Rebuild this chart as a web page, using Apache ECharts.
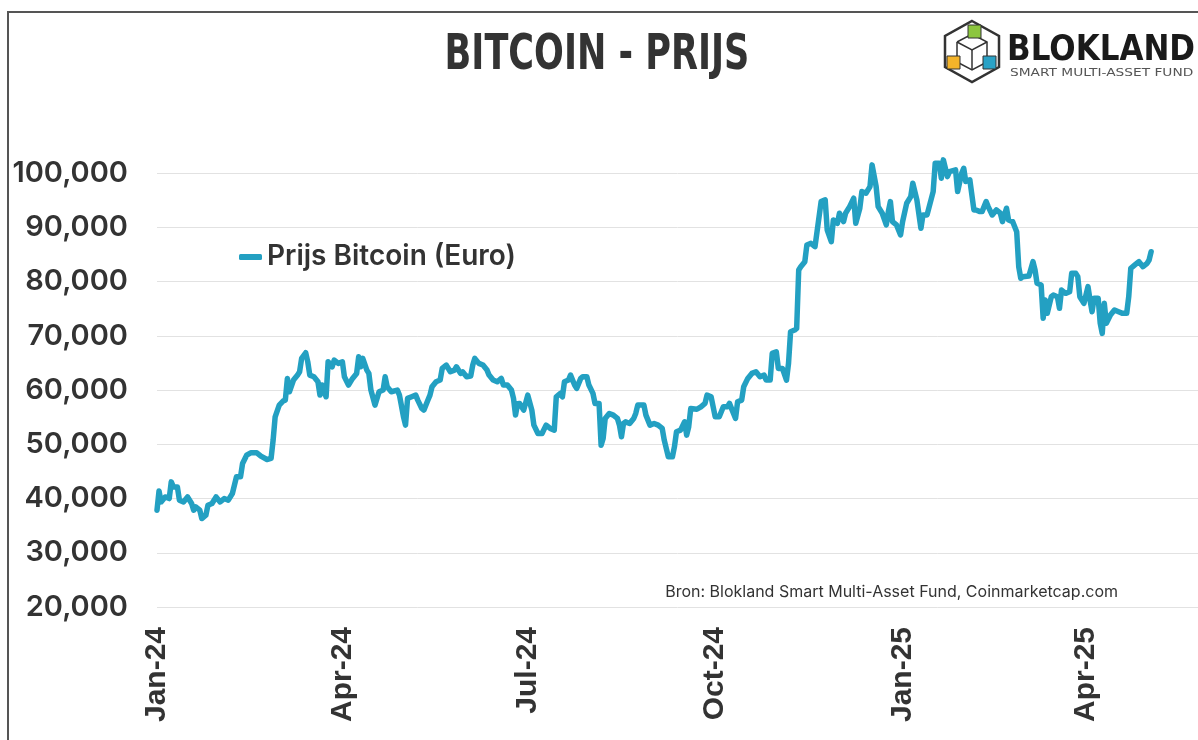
<!DOCTYPE html>
<html lang="nl">
<head>
<meta charset="UTF-8">
<title>Bitcoin - Prijs</title>
<script src="https://cdn.jsdelivr.net/npm/echarts@6/dist/echarts.min.js"></script>
<style>
  html, body { margin: 0; padding: 0; background: #fff; }
  #main { width: 1198px; height: 740px; }
</style>
</head>
<body>
<div id="main"></div>
<script>
// days since 1 Jan 2024
var dayIdx = [0,1,2,4,6,7,8,10,11,13,15,17,18,19,21,22,24,25,27,29,31,33,35,37,39,41,42,44,46,49,51,54,56,57,58,60,62,63,64,65,67,69,70,71,73,74,75,77,79,80,81,83,84,86,87,89,
  91,92,94,96,98,99,100,101,103,104,105,107,109,111,112,113,115,118,119,121,122,123,125,127,128,130,131,133,134,135,137,139,140,142,144,146,147,149,150,152,154,155,156,158,160,162,163,165,167,169,170,172,
  174,175,176,177,178,180,182,184,185,187,189,191,193,195,196,198,199,200,202,203,205,206,208,209,211,212,214,215,217,218,219,220,222,224,226,227,228,229,230,232,234,235,236,239,240,242,244,246,248,249,251,253,254,255,257,259,260,261,
  262,265,267,269,270,272,274,276,278,280,281,283,284,285,287,288,290,292,294,296,298,299,301,302,304,305,307,309,310,311,313,314,315,316,318,319,321,323,324,326,328,329,331,332,334,335,337,338,340,342,343,345,346,348,350,351,353,
  354,356,358,359,360,361,363,365,366,368,370,371,373,375,376,378,381,382,384,385,386,388,389,392,393,395,396,397,399,401,402,404,405,407,408,410,412,414,415,417,418,420,422,423,424,425,428,430,431,432,434,435,436,437,439,440,442,443,444,446,448,449,451,452,453,454,455,457,458,459,460,462,463,464,465,466,468,470,472,474,476,477,478,480,482,484,486,487,488];

// price in euro
var priceEur = [37850,41410,39380,40300,40000,43080,42150,42150,39700,39380,40300,39090,37850,38460,37850,36320,36930,38770,39090,40300,39380,40000,39700,40930,44000,44000,46470,48000,48430,48430,47820,47210,47400,50770,55080,57240,58030,58160,62160,59700,61850,62770,63380,65850,66890,65230,62770,62460,61540,59080,60930,58770,65230,64300,65540,64930,
  65230,62460,60930,62160,63080,66150,64300,65850,63690,63080,60010,57240,59700,60010,62460,60620,59700,60010,59080,55080,53540,58470,58770,59080,58160,56620,56310,58160,59080,60620,61540,61850,64000,64620,63380,63690,64300,63080,63380,62460,62580,64620,65850,64930,64620,63690,62770,61850,61540,62160,60930,60930,
  60010,58470,55390,57500,57550,56310,59080,56310,53540,52000,52000,53540,52930,52620,58770,59390,58770,61540,61850,62770,60930,60320,62160,62460,62460,60930,59390,57550,57550,49850,51090,54780,55700,55390,54780,53540,51390,53850,54150,53850,54780,55700,57240,57240,55390,53540,53850,53540,52930,50770,47690,47690,49540,52310,52620,54150,51700,53230,
  56620,56470,56920,57550,59080,58770,55080,55080,56920,56920,57550,55700,54780,57850,58160,60620,62160,63080,63380,62460,62770,61850,61850,66780,67080,64000,64000,61850,64930,70770,71080,71390,82150,82760,83690,86770,87080,86460,89220,94760,95080,89530,87380,91380,90770,92620,91080,92620,93840,95390,90770,93540,96610,96310,97530,101540,97530,
  93840,92620,90460,92920,94760,91080,90460,88620,91080,94460,95690,98150,95080,89840,92310,92310,96610,101840,101840,99080,102460,99380,100300,100610,96610,100000,100920,98460,98770,93230,93230,92920,92920,94760,93840,92310,93230,92620,91080,93540,91380,91080,89220,82760,80620,80920,81040,83690,82150,79700,79390,73240,76620,74160,77230,77540,77230,75080,78460,77850,78150,81540,81540,80920,77230,76620,76000,79080,76620,74460,76930,76930,72320,70470,76000,72320,73850,74770,74460,74160,74160,77230,82460,83080,83690,82760,83380,84000,85530];

// quarter starts as day index, and their labels
var tickDays = [0, 91, 182, 274, 366, 456];
var tickLabels = ['Jan-24','Apr-24','Jul-24','Oct-24','Jan-25','Apr-25'];

var lineData = [];
for (var i = 0; i < dayIdx.length; i++) {
    lineData.push([dayIdx[i], priceEur[i]]);
}

var myChart = echarts.init(document.getElementById('main'));

var option = {
    animation: false,
    backgroundColor: '#fff',
    grid: { left: 157, right: 0, top: 119, bottom: 133 },
    legend: {
        left: 239, top: 243, padding: 0,
        icon: 'roundRect', itemWidth: 23, itemHeight: 6, itemGap: 10,
        textStyle: { fontFamily: 'Inter', fontWeight: 600, fontSize: 28, color: '#333' },
        data: ['Prijs Bitcoin (Euro)']
    },
    xAxis: {
        type: 'value',
        min: 0,
        max: 511,
        axisLine: { show: false },
        axisTick: { show: false },
        splitLine: { show: false },
        axisLabel: {
            customValues: tickDays,
            rotate: 90,
            margin: 20,
            fontFamily: 'Liberation Sans',
            fontWeight: 'bold',
            fontSize: 30,
            color: '#333',
            formatter: function (val) {
                var k = tickDays.indexOf(val);
                return k >= 0 ? tickLabels[k] : '';
            }
        }
    },
    yAxis: {
        type: 'value',
        min: 20000, max: 110000, interval: 10000,
        axisLine: { show: false },
        axisTick: { show: false },
        splitLine: { showMaxLine: false, lineStyle: { color: '#e2e2e2', width: 1 } },
        axisLabel: {
            margin: 29,
            fontFamily: 'Inter',
            fontWeight: 600,
            fontSize: 29,
            color: '#333',
            showMaxLabel: false,
            formatter: function (v) { return v >= 110000 ? '' : v.toLocaleString('en-US'); }
        }
    },
    series: [{
        name: 'Prijs Bitcoin (Euro)',
        type: 'line',
        data: lineData,
        showSymbol: false,
        symbol: 'none',
        clip: false,
        color: '#23a0c2',
        lineStyle: { width: 5.5, color: '#23a0c2', cap: 'round', join: 'round' }
    }],
    graphic: [
        // frame
        { type: 'polyline', shape: { points: [[8, 740], [8, 12], [1198, 12]] }, style: { stroke: '#555', lineWidth: 2, fill: null } },
        // title
        { type: 'text', x: 597, y: 56, scaleY: 1.28,
          style: { text: 'BITCOIN - PRIJS', fontFamily: 'Liberation Sans Narrow, DejaVu Sans Condensed', fontWeight: 'bold', fontSize: 39, fill: '#333', align: 'center', verticalAlign: 'middle' } },
        // logo mark
        { type: 'polygon', shape: { points: [[972, 21], [999, 36], [999, 67], [972, 82], [945, 67], [945, 36]] }, style: { stroke: '#333', lineWidth: 2.5, fill: null } },
        { type: 'polyline', shape: { points: [[957, 42], [972, 34], [987, 42], [987, 62], [972, 70], [957, 62], [957, 42]] }, style: { stroke: '#333', lineWidth: 1.5, fill: null } },
        { type: 'polyline', shape: { points: [[957, 42], [972, 50], [987, 42]] }, style: { stroke: '#333', lineWidth: 1.5, fill: null } },
        { type: 'line', shape: { x1: 972, y1: 50, x2: 972, y2: 70 }, style: { stroke: '#333', lineWidth: 1.5 } },
        { type: 'rect', shape: { x: 968, y: 25, width: 13, height: 13 }, style: { fill: '#8cc63e', stroke: '#333', lineWidth: 1 } },
        { type: 'rect', shape: { x: 947, y: 56, width: 13, height: 13 }, style: { fill: '#f4b42a', stroke: '#333', lineWidth: 1 } },
        { type: 'rect', shape: { x: 983, y: 56, width: 13, height: 13 }, style: { fill: '#2aa2c6', stroke: '#333', lineWidth: 1 } },
        // logo text
        { type: 'text', x: 1007, y: 51, scaleY: 1.15,
          style: { text: 'BLOKLAND', fontFamily: 'DejaVu Sans', fontWeight: 'bold', fontSize: 31, fill: '#1a1a1a', verticalAlign: 'middle' } },
        { type: 'text', x: 1010, y: 73, scaleX: 1.25,
          style: { text: 'SMART MULTI-ASSET FUND', fontFamily: 'DejaVu Sans', fontSize: 11, fill: '#555', verticalAlign: 'middle' } },
        // source
        { type: 'text', right: 80, top: 584,
          style: { text: 'Bron: Blokland Smart Multi-Asset Fund, Coinmarketcap.com', fontFamily: 'Inter', fontSize: 16, fill: '#333' } }
    ]
};

myChart.setOption(option);
</script>
</body>
</html>
